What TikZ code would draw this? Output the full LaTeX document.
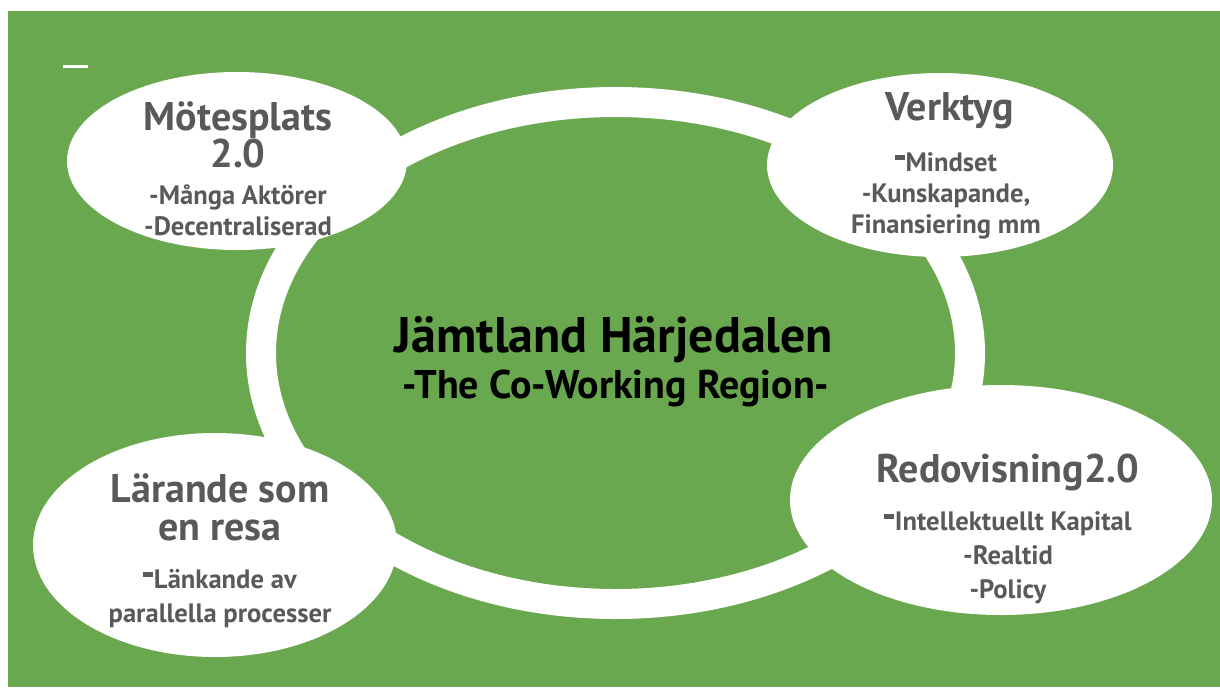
\documentclass[tikz,border=0pt]{standalone}
\usepackage{fontspec}
\setmainfont{PT Sans}
\usetikzlibrary{shapes.geometric}
\definecolor{JhGreen}{RGB}{106,168,79}
\definecolor{JhGray}{RGB}{89,89,89}
\newcommand\jhdash{\raisebox{0.4em}{\rule{0.36em}{0.22em}}\hspace{0.04em}}
\tikzset{
  jh/bubble/.style={
    ellipse,
    fill=white,
    inner sep=0pt,
    outer sep=0pt
  },
  jh/ring/.style={
    ellipse,
    draw=white,
    line width=15pt,
    inner sep=0pt
  },
  % base anchor sits on the last line of a block
  jh/title/.style={anchor=base, align=center, text=JhGray, font=\bfseries\fontsize{20}{18.5}\selectfont},
  jh/body/.style={anchor=base, align=center, text=JhGray, font=\bfseries\fontsize{13.3}{15.5}\selectfont},
  jh/head/.style={anchor=base, align=center, text=black, font=\bfseries\fontsize{25}{30}\selectfont},
  jh/subhead/.style={anchor=base, align=center, text=black, font=\bfseries\fontsize{20}{24}\selectfont}
}
\begin{document}
\begin{tikzpicture}[x=0.5pt,y=-0.5pt]
  \useasboundingbox (0,0) rectangle (1220,687);
  \fill[JhGreen] (8,11) rectangle (1220,687);
  \draw[white, line width=1.5pt] (63,66) -- (88,66);

  % ring behind the four bubbles
  \node[jh/ring, minimum width=354.5pt, minimum height=251pt] (ring) at (615.5,353) {};

  \node[jh/bubble, minimum width=170pt, minimum height=89pt] (moetes) at (237,161) {};
  \node[jh/bubble, minimum width=173pt, minimum height=92pt] (verktyg) at (940,165) {};
  \node[jh/bubble, minimum width=182pt, minimum height=112pt] (laerande) at (215,545) {};
  \node[jh/bubble, minimum width=211pt, minimum height=115pt] (redov) at (1001,500) {};

  \node[jh/head] (region) at (614,352) {Jämtland Härjedalen};
  \node[jh/subhead] (coworking) at (616,398) {-The Co-Working Region-};

  \node[jh/title] (moetes-t) at (238,167) {Mötesplats\\2.0};
  \node[jh/body] (moetes-b) at (238,235) {-Många Aktörer\\-Decentraliserad};

  \node[jh/title] (verktyg-t) at (950,120) {Verktyg};
  \node[jh/body] (verktyg-b) at (946,233) {\jhdash Mindset\\-Kunskapande,\\Finansiering mm};

  \node[jh/title, font=\bfseries\fontsize{20}{19}\selectfont] (laerande-t) at (220,540) {Lärande som\\en resa};
  \node[jh/body, font=\bfseries\fontsize{13.3}{17}\selectfont] (laerande-b) at (220,622) {\jhdash Länkande av\\parallella processer};

  \node[jh/title] (redov-t) at (1008,482) {Redovisning2.0};
  \node[jh/body, font=\bfseries\fontsize{13.3}{17}\selectfont] (redov-b) at (1008,598) {\jhdash Intellektuellt Kapital\\-Realtid\\-Policy};
\end{tikzpicture}
\end{document}
